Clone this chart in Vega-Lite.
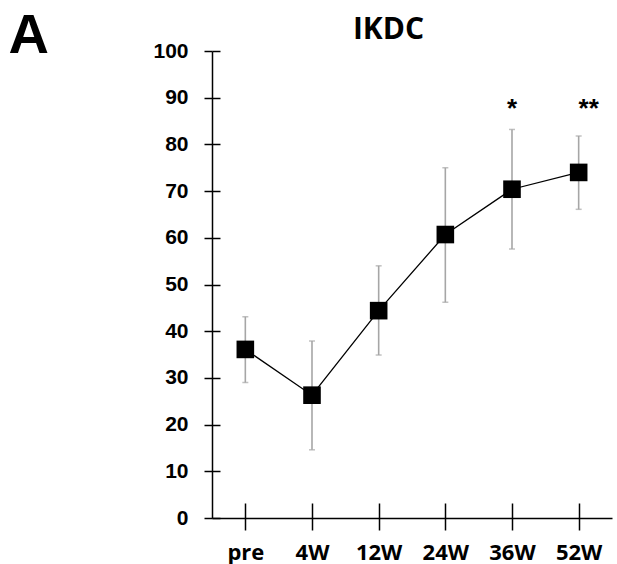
{
  "$schema": "https://vega.github.io/schema/vega-lite/v6.json",
  "width": 400,
  "height": 467,
  "autosize": "none",
  "padding": {"left": 212, "top": 51, "right": 5, "bottom": 46},
  "background": "white",
  "data": {
    "values": [
      {"time": "pre", "mean": 36.1, "lo": 29.0, "hi": 43.1},
      {"time": "4W", "mean": 26.3, "lo": 14.6, "hi": 37.9},
      {"time": "12W", "mean": 44.4, "lo": 34.9, "hi": 54.0},
      {"time": "24W", "mean": 60.7, "lo": 46.2, "hi": 75.0},
      {"time": "36W", "mean": 70.4, "lo": 57.6, "hi": 83.2, "sig": "*"},
      {"time": "52W", "mean": 74.0, "lo": 66.1, "hi": 81.8, "sig": "**"}
    ]
  },
  "layer": [
    {
      "mark": {"type": "rule", "color": "#a6a6a6", "strokeWidth": 1.6},
      "encoding": {
        "x": {
          "field": "time", "type": "nominal",
          "sort": ["pre", "4W", "12W", "24W", "36W", "52W"],
          "scale": {"type": "point", "padding": 0.5},
          "axis": {
            "orient": "bottom", "title": null, "labelAngle": 0,
            "tickSize": 12, "labelPadding": 12,
            "labelFont": "Open Sans", "labelFontSize": 22, "labelFontWeight": "bold",
            "labelColor": "black", "labelBaseline": "top"
          }
        },
        "y": {
          "field": "lo", "type": "quantitative",
          "scale": {"domain": [0, 100], "nice": false, "zero": true},
          "axis": {
            "orient": "left", "values": [0, 10, 20, 30, 40, 50, 60, 70, 80, 90, 100],
            "tickSize": 8, "labelPadding": 16,
            "labelFont": "Liberation Sans",
            "labelFontSize": 21, "labelFontWeight": "bold", "labelColor": "black",
            "title": "A", "titleAngle": 0, "titleAlign": "left", "titleBaseline": "alphabetic",
            "titleX": -204, "titleY": 1, "titleFont": "Liberation Sans",
            "titleFontSize": 56, "titleFontWeight": "bold", "titleColor": "black"
          }
        },
        "y2": {"field": "hi"}
      }
    },
    {
      "mark": {"type": "tick", "color": "#a6a6a6", "thickness": 1.5, "size": 6},
      "encoding": {
        "x": {
          "field": "time", "type": "nominal",
          "sort": ["pre", "4W", "12W", "24W", "36W", "52W"],
          "axis": {
            "orient": "bottom", "labels": false, "domain": false, "tickSize": -15,
            "title": "IKDC", "titleX": 176, "titleY": -480, "titleAlign": "center",
            "titleBaseline": "alphabetic", "titleFont": "Open Sans", "titleFontSize": 30,
            "titleFontWeight": "bold", "titleColor": "black"
          }
        },
        "y": {
          "field": "hi", "type": "quantitative",
          "axis": {"orient": "left", "title": null, "labels": false, "domain": false, "tickSize": -8,
                   "values": [0, 10, 20, 30, 40, 50, 60, 70, 80, 90, 100]}
        }
      }
    },
    {
      "mark": {"type": "tick", "color": "#a6a6a6", "thickness": 1.5, "size": 6},
      "encoding": {
        "x": {"field": "time", "type": "nominal", "sort": ["pre", "4W", "12W", "24W", "36W", "52W"], "axis": null},
        "y": {"field": "lo", "type": "quantitative", "axis": null}
      }
    },
    {
      "mark": {"type": "line", "color": "black", "strokeWidth": 1.3},
      "encoding": {
        "x": {"field": "time", "type": "nominal", "sort": ["pre", "4W", "12W", "24W", "36W", "52W"], "axis": null},
        "y": {"field": "mean", "type": "quantitative", "axis": null}
      }
    },
    {
      "mark": {"type": "point", "shape": "square", "filled": true, "color": "black", "size": 310, "opacity": 1},
      "encoding": {
        "x": {"field": "time", "type": "nominal", "sort": ["pre", "4W", "12W", "24W", "36W", "52W"], "axis": null},
        "y": {"field": "mean", "type": "quantitative", "axis": null}
      }
    },
    {
      "transform": [{"filter": "datum.sig == '*'"}],
      "mark": {"type": "text", "font": "Liberation Sans", "fontSize": 26, "fontWeight": "bold", "baseline": "alphabetic", "align": "center", "color": "black"},
      "encoding": {
        "x": {"field": "time", "type": "nominal", "sort": ["pre", "4W", "12W", "24W", "36W", "52W"], "axis": null},
        "y": {"datum": 85.8, "type": "quantitative", "axis": null},
        "text": {"field": "sig"}
      }
    },
    {
      "transform": [{"filter": "datum.sig == '**'"}],
      "mark": {"type": "text", "font": "Liberation Sans", "fontSize": 26, "fontWeight": "bold", "baseline": "alphabetic", "align": "center", "dx": 10, "color": "black"},
      "encoding": {
        "x": {"field": "time", "type": "nominal", "sort": ["pre", "4W", "12W", "24W", "36W", "52W"], "axis": null},
        "y": {"datum": 85.8, "type": "quantitative", "axis": null},
        "text": {"field": "sig"}
      }
    }
  ],
  "resolve": {"axis": {"x": "independent", "y": "independent"}},
  "config": {
    "view": {"stroke": null},
    "axis": {
      "grid": false, "domainColor": "black", "tickColor": "black",
      "domainWidth": 1.5, "tickWidth": 1.5
    }
  }
}
